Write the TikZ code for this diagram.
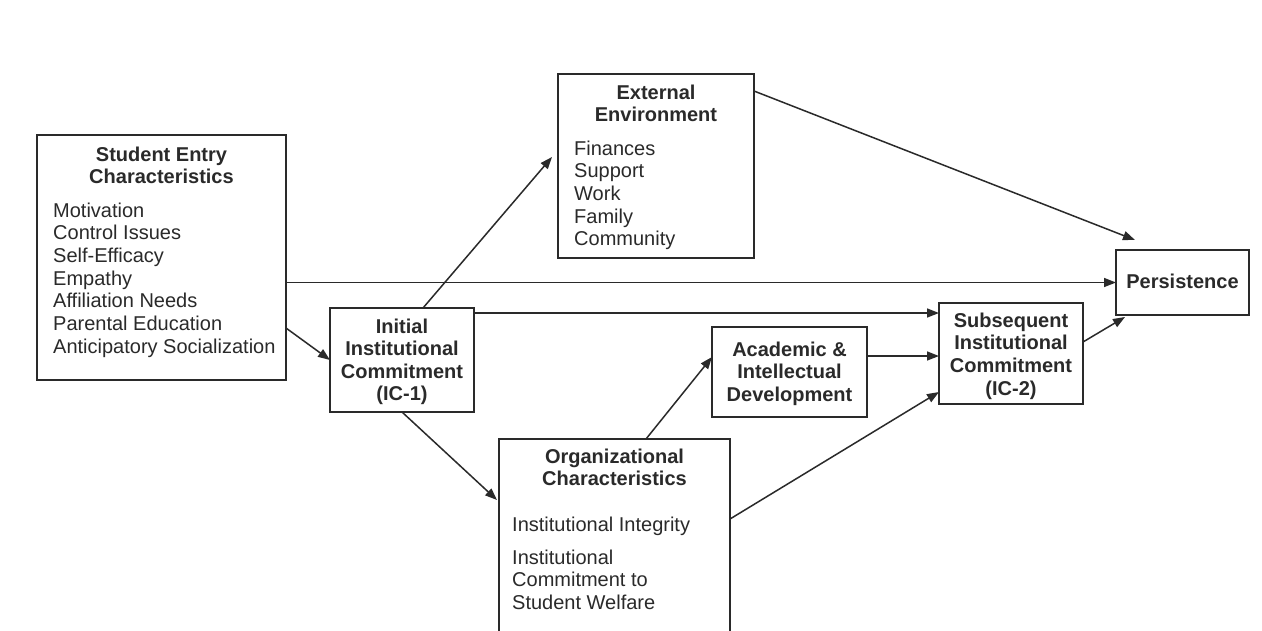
\documentclass[tikz,border=0pt]{standalone}
\usepackage{fontspec}
\setmainfont{Liberation Sans}
\usetikzlibrary{arrows.meta}
\definecolor{ink}{HTML}{2A2A2A}
\tikzset{
 box/.style={draw=ink, line width=1.6pt, inner sep=0pt, outer sep=0pt},
 conn/.style={draw=ink, line width=1.5pt, -{Triangle[length=12pt,width=9pt]}},
 ttl/.style={font=\bfseries\fontsize{20}{22.6}\selectfont, align=center, anchor=north, inner sep=0pt, text=ink},
 lst/.style={font=\fontsize{20}{22.7}\selectfont, align=left, anchor=north west, inner sep=0pt, text=ink},
}
\begin{document}
\begin{tikzpicture}[x=1pt,y=-1pt]
\useasboundingbox (0,0) rectangle (1262,630);
\fill[white] (0,0) rectangle (1262,630);
% boxes
\node[box, minimum width=249pt, minimum height=245pt] (sec) at (161.5,257.5) {};
\node[box, minimum width=144pt, minimum height=104pt] (ini) at (402,360) {};
\node[box, minimum width=196pt, minimum height=184pt] (ext) at (656,166) {};
\node[box, minimum width=155pt, minimum height=90pt] (aca) at (789.5,372) {};
\node[box, minimum width=231pt, minimum height=211pt] (org) at (614.5,544.5) {};
\node[box, minimum width=144pt, minimum height=101pt] (sub) at (1011,353.5) {};
\node[box, minimum width=133pt, minimum height=65pt] (per) at (1182.5,282.5) {};
% texts
\node[ttl] (sect) at (161.5,146.5) {Student Entry\\Characteristics};
\node[lst] (secl) at (53,202.5) {Motivation\\Control Issues\\Self-Efficacy\\Empathy\\Affiliation Needs\\Parental Education\\Anticipatory Socialization};
\node[ttl] (init) at (402,318.5) {Initial\\Institutional\\Commitment\\(IC-1)};
\node[ttl] (extt) at (656,84.5) {External\\Environment};
\node[lst] (extl) at (574,140.5) {Finances\\Support\\Work\\Family\\Community};
\node[ttl] (acat) at (789.5,341.5) {Academic \&\\Intellectual\\Development};
\node[ttl] (orgt) at (614.5,448.5) {Organizational\\Characteristics};
\node[lst] (orgl1) at (512,516.5) {Institutional Integrity};
\node[lst, font=\fontsize{20}{22.5}\selectfont] (orgl2) at (512,549.5) {Institutional\\Commitment to\\Student Welfare};
\node[ttl] (subt) at (1011,312.5) {Subsequent\\Institutional\\Commitment\\(IC-2)};
\node[ttl] (pert) at (1182.5,273.5) {Persistence};
% helper coordinates
\coordinate (a1) at ([yshift=-5pt]ini.north east);
\coordinate (a2) at ([yshift=16pt]aca.east);
% connectors
\draw[conn] ([yshift=-70.5pt]sec.east) -- (ini.west);
\draw[conn] (per.west -| sec.east) -- (per.west);
\draw[conn] ([xshift=21pt]ini.north) -- ([xshift=-6pt,yshift=9pt]ext.west);
\draw[conn] (a1) -- (a1 -| sub.west);
\draw[conn] (ini.south) -- ([xshift=-2pt,yshift=-61pt]org.north west);
\draw[conn] ([yshift=-17pt]ext.north east) -- ([xshift=-47.5pt,yshift=10pt]per.north);
\draw[conn] (a2) -- (a2 -| sub.west);
\draw[conn] ([xshift=31.5pt]org.north) -- ([yshift=15pt]aca.west);
\draw[conn] ([yshift=-80pt]org.north east) -- ([yshift=-38.5pt]sub.west);
\draw[conn] ([yshift=11.5pt]sub.east) -- ([xshift=9pt,yshift=-2pt]per.south west);
\end{tikzpicture}
\end{document}
